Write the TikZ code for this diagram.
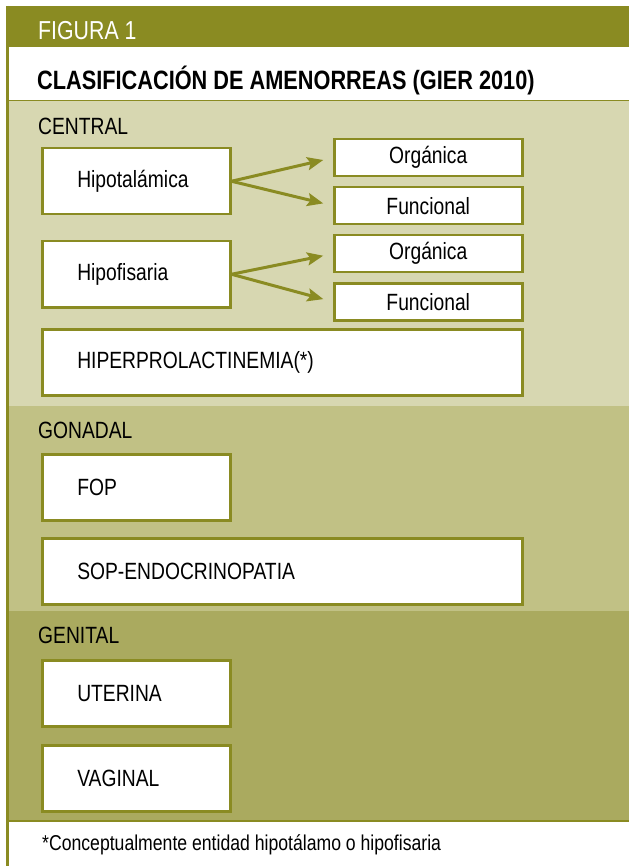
\documentclass[tikz,border=0pt]{standalone}
\usepackage{fontspec}
\setmainfont{Liberation Sans}[FakeStretch=0.82]
\usetikzlibrary{arrows.meta}
\definecolor{olive}{HTML}{8A8B22}
\definecolor{bandA}{HTML}{D7D7B1}
\definecolor{bandB}{HTML}{C1C185}
\definecolor{bandC}{HTML}{AAAA5F}

\begin{document}
\begin{tikzpicture}[x=1pt, y=-1pt,
    box/.style={draw=olive, line width=2.5pt, fill=white, anchor=north west,
        inner xsep=35pt, inner ysep=0pt, text width=118pt, align=left,
        font=\fontsize{23.5}{26}\selectfont},
    widebox/.style={box, text width=410pt},
    smallbox/.style={draw=olive, line width=2.5pt, fill=white, anchor=north west,
        inner sep=0pt, minimum width=188pt, minimum height=37pt,
        font=\fontsize{23.5}{26}\selectfont},
    band/.style={anchor=base west, inner sep=0pt, font=\fontsize{23.5}{26}\selectfont},
    arr/.style={draw=olive, line width=3pt, shorten >=10pt,
        -{Stealth[length=16pt, width=13pt, inset=3pt]}}]
    \useasboundingbox (0,0) rectangle (629,866);
    \fill[white] (0,0) rectangle (629,866);
        %draw background bands
    \fill[olive] (7,6) rectangle (629,47);
    \fill[bandA] (7,101) rectangle (629,406);
    \fill[bandB] (7,406) rectangle (629,611);
    \fill[bandC] (7,611) rectangle (629,821);
    \draw[olive, line width=1pt] (7,101) -- (629,101);
    \draw[olive, line width=2.5pt] (7,821) -- (629,821);
    \draw[olive, line width=2.5pt] (7.5,6) -- (7.5,866);
        %draw headings
    \node[band, text=white, font=\fontsize{26}{28}\selectfont] (fig) at (38,40) {FIGURA 1};
    \node[band, font=\fontsize{26.5}{28}\selectfont\bfseries] (title) at (37,90)
        {CLASIFICACIÓN DE AMENORREAS (GIER 2010)};
    \node[band] (central) at (38,135) {CENTRAL};
    \node[band] (gonadal) at (38,438) {GONADAL};
    \node[band] (genital) at (38,643) {GENITAL};
        %%%%%%%%%%%%%%%%%%%%%%%%%%%%%%%%%%%
        %%%Central
        %%%%%%%%%%%%%%%%%%%%%%%%%%%%%%%%%%%
    \node[box, minimum height=66pt] (hipot) at (41,147) {Hipotalámica};
    \node[smallbox] (org1) at (333,138) {Orgánica};
    \node[smallbox] (fun1) at (333,186) {Funcional};
    \node[box, minimum height=66pt] (hipof) at (41,240) {Hipofisaria};
    \node[smallbox] (org2) at (333,234) {Orgánica};
    \node[smallbox] (fun2) at (333,282) {Funcional};
    \node[widebox, minimum height=66pt] (hiper) at (41,328) {HIPERPROLACTINEMIA(*)};
        %draw arrows
    \draw[arr] (hipot.east) -- (org1.west);
    \draw[arr] (hipot.east) -- (fun1.west);
    \draw[arr] (hipof.east) -- (org2.west);
    \draw[arr] (hipof.east) -- (fun2.west);
        %%%%%%%%%%%%%%%%%%%%%%%%%%%%%%%%%%%
        %%%Gonadal
        %%%%%%%%%%%%%%%%%%%%%%%%%%%%%%%%%%%
    \node[box, minimum height=66pt] (fop) at (41,453) {FOP};
    \node[widebox, minimum height=66pt] (sop) at (41,537) {SOP-ENDOCRINOPATIA};
        %%%%%%%%%%%%%%%%%%%%%%%%%%%%%%%%%%%
        %%%Genital
        %%%%%%%%%%%%%%%%%%%%%%%%%%%%%%%%%%%
    \node[box, minimum height=66pt] (uter) at (41,659) {UTERINA};
    \node[box, minimum height=66pt] (vagi) at (41,744) {VAGINAL};
        %footnote
    \node[band, font=\fontsize{21.5}{24}\selectfont] (note) at (42,850)
        {*Conceptualmente entidad hipotálamo o hipofisaria};
\end{tikzpicture}
\end{document}
